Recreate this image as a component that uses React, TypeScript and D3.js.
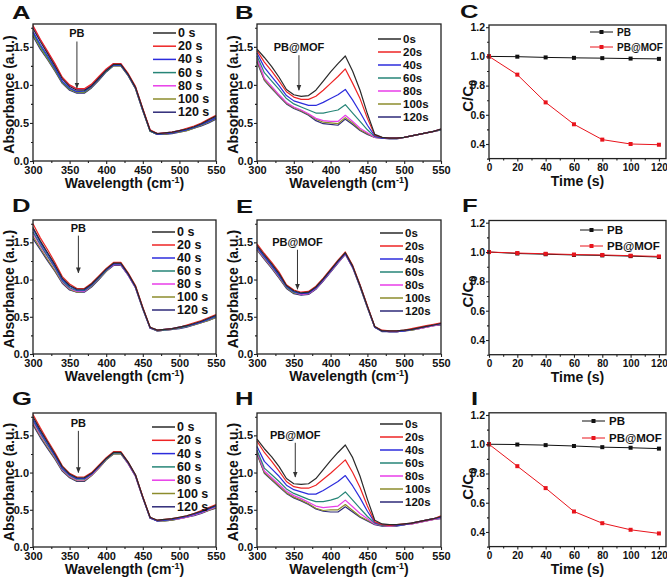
import { useEffect, useRef } from 'react';
import * as d3 from 'd3';

// wavelength grid shared by all spectra (nm, axis is labelled cm-1 in the source)
const wavelengths = [300, 310, 320, 330, 340, 350, 360, 370, 380, 390, 400, 410, 420, 430, 440, 450, 460, 470, 480, 490, 500, 510, 520, 530, 540, 550];

const labelsSpaced = ['0 s', '20 s', '40 s', '60 s', '80 s', '100 s', '120 s'];
const labelsTight = ['0s', '20s', '40s', '60s', '80s', '100s', '120s'];
const seriesColors = ['#2a2a2a', '#ee2424', '#2c2cdc', '#268577', '#e83ee8', '#8c8c2c', '#2e2a78'];

// Panel A (PB)
const a0 = [1.74, 1.57, 1.41, 1.25, 1.08, 0.98, 0.93, 0.93, 0.99, 1.09, 1.19, 1.27, 1.27, 1.14, 0.97, 0.68, 0.40, 0.36, 0.37, 0.38, 0.40, 0.42, 0.45, 0.49, 0.54, 0.59];
const a20 = [1.78, 1.60, 1.44, 1.28, 1.10, 1.00, 0.95, 0.95, 1.01, 1.11, 1.21, 1.28, 1.28, 1.15, 0.98, 0.69, 0.41, 0.36, 0.37, 0.38, 0.40, 0.43, 0.46, 0.50, 0.55, 0.60];
const a40 = [1.70, 1.53, 1.38, 1.22, 1.05, 0.96, 0.91, 0.92, 0.98, 1.08, 1.19, 1.26, 1.26, 1.13, 0.96, 0.67, 0.40, 0.35, 0.36, 0.37, 0.39, 0.41, 0.44, 0.48, 0.52, 0.57];
const a60 = [1.68, 1.51, 1.36, 1.21, 1.04, 0.95, 0.91, 0.91, 0.98, 1.08, 1.18, 1.26, 1.26, 1.13, 0.96, 0.67, 0.39, 0.35, 0.36, 0.37, 0.39, 0.41, 0.44, 0.48, 0.52, 0.57];
const a80 = [1.76, 1.59, 1.43, 1.27, 1.09, 0.99, 0.94, 0.94, 1.00, 1.10, 1.20, 1.28, 1.28, 1.14, 0.97, 0.68, 0.40, 0.36, 0.37, 0.38, 0.40, 0.42, 0.45, 0.49, 0.54, 0.59];
const a100 = [1.66, 1.49, 1.34, 1.19, 1.03, 0.94, 0.90, 0.90, 0.97, 1.07, 1.18, 1.25, 1.25, 1.12, 0.95, 0.66, 0.39, 0.35, 0.35, 0.37, 0.38, 0.40, 0.43, 0.47, 0.51, 0.56];
const a120 = [1.64, 1.47, 1.33, 1.18, 1.02, 0.93, 0.89, 0.89, 0.96, 1.06, 1.17, 1.25, 1.25, 1.12, 0.95, 0.66, 0.39, 0.35, 0.35, 0.36, 0.38, 0.40, 0.43, 0.46, 0.50, 0.55];

// Panel B (PB@MOF)
const b0 = [1.47, 1.36, 1.24, 1.10, 0.94, 0.87, 0.85, 0.86, 0.93, 1.05, 1.17, 1.28, 1.38, 1.18, 0.93, 0.62, 0.35, 0.31, 0.30, 0.30, 0.31, 0.33, 0.35, 0.37, 0.39, 0.42];
const b20 = [1.45, 1.30, 1.18, 1.05, 0.91, 0.84, 0.81, 0.81, 0.85, 0.93, 1.02, 1.11, 1.21, 1.02, 0.82, 0.56, 0.34, 0.31, 0.30, 0.30, 0.31, 0.33, 0.35, 0.37, 0.39, 0.42];
const b40 = [1.42, 1.23, 1.11, 0.99, 0.86, 0.79, 0.76, 0.73, 0.73, 0.77, 0.82, 0.87, 0.94, 0.80, 0.64, 0.47, 0.33, 0.30, 0.30, 0.30, 0.31, 0.33, 0.35, 0.37, 0.39, 0.42];
const b60 = [1.38, 1.16, 1.05, 0.94, 0.82, 0.75, 0.71, 0.67, 0.63, 0.63, 0.65, 0.67, 0.74, 0.63, 0.52, 0.41, 0.32, 0.30, 0.30, 0.30, 0.31, 0.33, 0.35, 0.37, 0.39, 0.41];
const b80 = [1.35, 1.09, 0.98, 0.87, 0.77, 0.71, 0.67, 0.62, 0.56, 0.53, 0.52, 0.52, 0.60, 0.52, 0.43, 0.37, 0.31, 0.30, 0.30, 0.30, 0.31, 0.33, 0.35, 0.37, 0.39, 0.41];
const b100 = [1.32, 1.07, 0.96, 0.86, 0.76, 0.70, 0.66, 0.61, 0.55, 0.51, 0.50, 0.49, 0.57, 0.50, 0.41, 0.36, 0.31, 0.30, 0.30, 0.30, 0.31, 0.33, 0.35, 0.37, 0.39, 0.41];
const b120 = [1.30, 1.06, 0.95, 0.85, 0.75, 0.69, 0.65, 0.60, 0.53, 0.49, 0.48, 0.47, 0.55, 0.48, 0.40, 0.35, 0.31, 0.30, 0.29, 0.29, 0.31, 0.33, 0.35, 0.37, 0.39, 0.41];

// Panel D (PB)
const d0 = [1.70, 1.52, 1.36, 1.20, 1.02, 0.92, 0.87, 0.87, 0.94, 1.04, 1.14, 1.22, 1.22, 1.08, 0.91, 0.62, 0.36, 0.32, 0.33, 0.34, 0.36, 0.38, 0.41, 0.44, 0.48, 0.52];
const d20 = [1.75, 1.56, 1.40, 1.23, 1.04, 0.94, 0.88, 0.88, 0.95, 1.05, 1.15, 1.23, 1.23, 1.09, 0.92, 0.63, 0.36, 0.32, 0.33, 0.34, 0.36, 0.39, 0.42, 0.45, 0.49, 0.53];
const d40 = [1.68, 1.50, 1.34, 1.18, 1.00, 0.91, 0.86, 0.86, 0.93, 1.03, 1.13, 1.21, 1.21, 1.07, 0.90, 0.62, 0.35, 0.32, 0.33, 0.34, 0.36, 0.38, 0.40, 0.43, 0.47, 0.51];
const d60 = [1.64, 1.47, 1.31, 1.16, 0.98, 0.89, 0.85, 0.85, 0.92, 1.02, 1.12, 1.21, 1.21, 1.07, 0.90, 0.61, 0.35, 0.31, 0.32, 0.33, 0.35, 0.37, 0.40, 0.43, 0.46, 0.50];
const d80 = [1.62, 1.45, 1.30, 1.15, 0.97, 0.88, 0.84, 0.84, 0.92, 1.02, 1.12, 1.20, 1.20, 1.06, 0.89, 0.61, 0.35, 0.31, 0.32, 0.33, 0.35, 0.37, 0.40, 0.43, 0.46, 0.50];
const d100 = [1.58, 1.42, 1.27, 1.12, 0.96, 0.87, 0.83, 0.84, 0.91, 1.01, 1.11, 1.20, 1.20, 1.06, 0.89, 0.61, 0.35, 0.31, 0.32, 0.33, 0.35, 0.37, 0.39, 0.42, 0.45, 0.49];
const d120 = [1.55, 1.40, 1.25, 1.11, 0.95, 0.86, 0.83, 0.83, 0.90, 1.00, 1.11, 1.19, 1.19, 1.06, 0.89, 0.60, 0.35, 0.31, 0.32, 0.33, 0.34, 0.36, 0.39, 0.42, 0.45, 0.49];

// Panel E (PB@MOF)
const e0 = [1.46, 1.33, 1.21, 1.08, 0.92, 0.85, 0.82, 0.83, 0.90, 1.01, 1.13, 1.25, 1.36, 1.18, 0.92, 0.64, 0.37, 0.31, 0.31, 0.31, 0.32, 0.33, 0.35, 0.37, 0.39, 0.41];
const e20 = [1.48, 1.35, 1.23, 1.10, 0.93, 0.86, 0.83, 0.84, 0.91, 1.02, 1.14, 1.26, 1.37, 1.19, 0.93, 0.65, 0.37, 0.32, 0.31, 0.31, 0.32, 0.34, 0.36, 0.38, 0.40, 0.42];
const e40 = [1.44, 1.31, 1.19, 1.06, 0.91, 0.84, 0.81, 0.82, 0.89, 1.00, 1.12, 1.24, 1.35, 1.17, 0.92, 0.64, 0.36, 0.31, 0.30, 0.30, 0.31, 0.33, 0.35, 0.37, 0.39, 0.41];
const e60 = [1.43, 1.30, 1.18, 1.05, 0.90, 0.83, 0.81, 0.82, 0.89, 1.00, 1.12, 1.24, 1.35, 1.17, 0.91, 0.63, 0.36, 0.31, 0.30, 0.30, 0.31, 0.33, 0.35, 0.37, 0.39, 0.41];
const e80 = [1.42, 1.29, 1.17, 1.04, 0.90, 0.83, 0.80, 0.81, 0.88, 0.99, 1.11, 1.23, 1.34, 1.16, 0.91, 0.63, 0.36, 0.31, 0.30, 0.30, 0.31, 0.33, 0.34, 0.36, 0.38, 0.40];
const e100 = [1.41, 1.28, 1.16, 1.03, 0.89, 0.82, 0.80, 0.81, 0.88, 0.99, 1.11, 1.23, 1.34, 1.16, 0.91, 0.63, 0.36, 0.31, 0.30, 0.30, 0.31, 0.32, 0.34, 0.36, 0.38, 0.40];
const e120 = [1.40, 1.27, 1.15, 1.02, 0.88, 0.81, 0.79, 0.80, 0.87, 0.98, 1.10, 1.22, 1.34, 1.16, 0.90, 0.62, 0.36, 0.30, 0.30, 0.30, 0.31, 0.32, 0.34, 0.36, 0.38, 0.39];

// Panel G (PB)
const g0 = [1.75, 1.57, 1.41, 1.25, 1.08, 0.98, 0.93, 0.93, 0.99, 1.09, 1.19, 1.27, 1.27, 1.14, 0.97, 0.67, 0.40, 0.36, 0.37, 0.38, 0.40, 0.42, 0.45, 0.48, 0.52, 0.56];
const g20 = [1.78, 1.60, 1.43, 1.27, 1.09, 0.99, 0.94, 0.94, 1.00, 1.10, 1.20, 1.28, 1.28, 1.14, 0.97, 0.68, 0.40, 0.36, 0.37, 0.38, 0.40, 0.42, 0.45, 0.49, 0.53, 0.57];
const g40 = [1.72, 1.55, 1.39, 1.23, 1.06, 0.97, 0.92, 0.92, 0.98, 1.08, 1.19, 1.27, 1.27, 1.13, 0.96, 0.67, 0.39, 0.35, 0.36, 0.37, 0.39, 0.41, 0.44, 0.47, 0.51, 0.55];
const g60 = [1.70, 1.53, 1.37, 1.22, 1.05, 0.96, 0.91, 0.91, 0.98, 1.08, 1.18, 1.26, 1.26, 1.13, 0.96, 0.67, 0.39, 0.35, 0.36, 0.37, 0.39, 0.41, 0.44, 0.47, 0.51, 0.55];
const g80 = [1.68, 1.51, 1.36, 1.21, 1.04, 0.95, 0.90, 0.90, 0.97, 1.07, 1.18, 1.26, 1.26, 1.12, 0.95, 0.66, 0.39, 0.35, 0.36, 0.37, 0.38, 0.40, 0.43, 0.46, 0.50, 0.54];
const g100 = [1.66, 1.49, 1.34, 1.19, 1.03, 0.94, 0.89, 0.89, 0.96, 1.06, 1.17, 1.25, 1.25, 1.12, 0.95, 0.66, 0.39, 0.35, 0.35, 0.36, 0.38, 0.40, 0.43, 0.46, 0.49, 0.53];
const g120 = [1.64, 1.47, 1.32, 1.18, 1.02, 0.93, 0.88, 0.88, 0.96, 1.06, 1.17, 1.25, 1.25, 1.12, 0.95, 0.66, 0.39, 0.35, 0.35, 0.36, 0.38, 0.40, 0.42, 0.45, 0.49, 0.52];

// Panel H (PB@MOF)
const h0 = [1.45, 1.32, 1.21, 1.08, 0.92, 0.85, 0.84, 0.85, 0.92, 1.04, 1.16, 1.27, 1.37, 1.20, 0.95, 0.64, 0.36, 0.31, 0.30, 0.30, 0.31, 0.32, 0.34, 0.36, 0.38, 0.41];
const h20 = [1.42, 1.27, 1.15, 1.02, 0.88, 0.81, 0.79, 0.79, 0.83, 0.91, 0.99, 1.08, 1.17, 1.00, 0.80, 0.55, 0.34, 0.30, 0.29, 0.30, 0.31, 0.32, 0.34, 0.36, 0.38, 0.42];
const h40 = [1.35, 1.15, 1.05, 0.95, 0.83, 0.77, 0.74, 0.71, 0.71, 0.76, 0.82, 0.88, 0.96, 0.82, 0.66, 0.48, 0.33, 0.30, 0.29, 0.29, 0.30, 0.32, 0.34, 0.36, 0.38, 0.40];
const h60 = [1.30, 1.06, 0.97, 0.88, 0.78, 0.72, 0.68, 0.64, 0.61, 0.61, 0.63, 0.66, 0.74, 0.63, 0.52, 0.41, 0.32, 0.29, 0.29, 0.29, 0.30, 0.32, 0.34, 0.36, 0.38, 0.40];
const h80 = [1.28, 1.02, 0.93, 0.84, 0.75, 0.69, 0.65, 0.60, 0.55, 0.53, 0.54, 0.55, 0.63, 0.54, 0.45, 0.38, 0.31, 0.29, 0.28, 0.29, 0.30, 0.31, 0.33, 0.35, 0.37, 0.39];
const h100 = [1.26, 1.00, 0.91, 0.82, 0.73, 0.67, 0.63, 0.58, 0.52, 0.49, 0.50, 0.50, 0.57, 0.49, 0.41, 0.36, 0.31, 0.29, 0.28, 0.29, 0.30, 0.31, 0.33, 0.35, 0.37, 0.39];
const h120 = [1.25, 0.99, 0.90, 0.81, 0.72, 0.66, 0.62, 0.57, 0.51, 0.48, 0.47, 0.47, 0.54, 0.47, 0.40, 0.35, 0.30, 0.28, 0.28, 0.28, 0.30, 0.31, 0.33, 0.35, 0.37, 0.38];

// Kinetics panels C, F, I
const times = [0, 20, 40, 60, 80, 100, 120];
const pbC = [1.0, 0.998, 0.993, 0.99, 0.988, 0.985, 0.983];
const mofC = [1.0, 0.875, 0.685, 0.535, 0.43, 0.40, 0.395];
const pbF = [1.0, 0.99, 0.985, 0.98, 0.977, 0.972, 0.966];
const mofF = [1.0, 0.993, 0.988, 0.983, 0.98, 0.975, 0.97];
const pbI = [1.0, 0.998, 0.994, 0.988, 0.98, 0.976, 0.97];
const mofI = [1.0, 0.85, 0.70, 0.54, 0.46, 0.415, 0.39];

const wlTicks = [300, 350, 400, 450, 500, 550];
const wlMinor = [325, 375, 425, 475, 525];
const absTicks = [0, 0.5, 1.0, 1.5];
const absMinor = [0.25, 0.75, 1.25, 1.75];
const timeTicks = [0, 20, 40, 60, 80, 100, 120];
const timeMinor = [10, 30, 50, 70, 90, 110];
const ratioTicks = [0.4, 0.6, 0.8, 1.0, 1.2];
const ratioMinor = [0.3, 0.5, 0.7, 0.9, 1.1];

const FONT = '"Liberation Sans", Arial, Helvetica, sans-serif';

type Spec = {
  letter: string; lx: number; ly: number;
  left: number; right: number; top: number; bottom: number;
  series: number[][]; labels: string[];
  legX: number; legY: number; legStep: number; legFont: number;
  tag: string; tagW: number; tagY: number; arrowFrom: number; arrowTo: number;
};

const specPanels: Spec[] = [
  { letter: 'A', lx: 12, ly: 19, left: 33, right: 216, top: 24, bottom: 161, series: [a0, a20, a40, a60, a80, a100, a120], labels: labelsSpaced, legX: 153, legY: 33, legStep: 13.2, legFont: 12.5, tag: 'PB', tagW: 360, tagY: 1.63, arrowFrom: 1.57, arrowTo: 0.96 },
  { letter: 'B', lx: 235, ly: 19, left: 257, right: 441, top: 24, bottom: 161, series: [b0, b20, b40, b60, b80, b100, b120], labels: labelsTight, legX: 378, legY: 39, legStep: 13, legFont: 11.5, tag: 'PB@MOF', tagW: 357, tagY: 1.45, arrowFrom: 1.39, arrowTo: 0.93 },
  { letter: 'D', lx: 12, ly: 212, left: 33, right: 216, top: 220, bottom: 354, series: [d0, d20, d40, d60, d80, d100, d120], labels: labelsSpaced, legX: 152, legY: 232, legStep: 13, legFont: 12.5, tag: 'PB', tagW: 362, tagY: 1.64, arrowFrom: 1.59, arrowTo: 1.09 },
  { letter: 'E', lx: 236, ly: 213, left: 257, right: 441, top: 220, bottom: 354, series: [e0, e20, e40, e60, e80, e100, e120], labels: labelsTight, legX: 380, legY: 233, legStep: 13, legFont: 11.5, tag: 'PB@MOF', tagW: 355, tagY: 1.45, arrowFrom: 1.40, arrowTo: 0.87 },
  { letter: 'G', lx: 12, ly: 405, left: 33, right: 216, top: 413, bottom: 547, series: [g0, g20, g40, g60, g80, g100, g120], labels: labelsSpaced, legX: 152, legY: 427, legStep: 13.3, legFont: 12.5, tag: 'PB', tagW: 362, tagY: 1.61, arrowFrom: 1.56, arrowTo: 1.0 },
  { letter: 'H', lx: 235, ly: 405, left: 257, right: 441, top: 413, bottom: 547, series: [h0, h20, h40, h60, h80, h100, h120], labels: labelsTight, legX: 380, legY: 424, legStep: 13, legFont: 11.5, tag: 'PB@MOF', tagW: 352, tagY: 1.45, arrowFrom: 1.40, arrowTo: 0.94 },
];

type Kin = {
  letter: string; lx: number; ly: number;
  left: number; right: number; top: number; bottom: number;
  pb: number[]; mof: number[]; legX: number; legY: number; legStep: number; legFont: number;
};

const kinPanels: Kin[] = [
  { letter: 'C', lx: 460, ly: 18, left: 489, right: 666, top: 25, bottom: 158.6, pb: pbC, mof: mofC, legX: 590, legY: 32, legStep: 15, legFont: 10 },
  { letter: 'F', lx: 462, ly: 212, left: 489, right: 666, top: 220.5, bottom: 354.7, pb: pbF, mof: mofF, legX: 580, legY: 230, legStep: 16, legFont: 11.5 },
  { letter: 'I', lx: 471, ly: 405, left: 489, right: 666, top: 412.8, bottom: 546.6, pb: pbI, mof: mofI, legX: 582, legY: 421, legStep: 17, legFont: 11.5 },
];

function styleAxis(size: number) {
  return (g: d3.Selection<SVGGElement, unknown, null, undefined>) => {
    g.select('.domain').remove();
    g.selectAll('line').attr('stroke', '#222').attr('stroke-width', 1.1);
    g.selectAll('text')
      .attr('fill', '#111')
      .style('font-family', FONT)
      .style('font-size', `${size}px`)
      .style('font-weight', 'bold');
  };
}

function letter(svg: d3.Selection<SVGSVGElement, unknown, null, undefined>, t: string, x: number, y: number) {
  svg.append('text')
    .attr('transform', `translate(${x},${y}) scale(1.35,1)`)
    .style('font-family', FONT)
    .style('font-size', '19px')
    .style('font-weight', 'bold')
    .attr('fill', '#111')
    .text(t);
}

export default function App() {
  const svgRef = useRef<SVGSVGElement>(null);

  useEffect(() => {
    if (!svgRef.current) return;
    const svg = d3.select(svgRef.current);
    svg.selectAll('*').remove();

    const defs = svg.append('defs');
    defs.append('marker')
      .attr('id', 'arrow')
      .attr('viewBox', '0 0 10 10')
      .attr('refX', 9).attr('refY', 5)
      .attr('markerWidth', 6).attr('markerHeight', 6)
      .attr('orient', 'auto')
      .append('path')
      .attr('d', 'M0,1 L10,5 L0,9 Z')
      .attr('fill', '#333');

    // spectra panels
    specPanels.forEach(p => {
      const x = d3.scaleLinear().domain([300, 550]).range([p.left, p.right]);
      const y = d3.scaleLinear().domain([0, 1.8]).range([p.bottom, p.top]);
      const g = svg.append('g');

      const line = d3.line<number>()
        .x((_, i) => x(wavelengths[i]))
        .y(d => y(d));

      // later series first so the 0 s curve stays on top
      p.series.slice().reverse().forEach((s, ri) => {
        const i = p.series.length - 1 - ri;
        g.append('path')
          .attr('d', line(s))
          .attr('fill', 'none')
          .attr('stroke', seriesColors[i])
          .attr('stroke-width', 1.2)
          .attr('stroke-linejoin', 'round');
      });

      g.append('rect')
        .attr('x', p.left).attr('y', p.top)
        .attr('width', p.right - p.left).attr('height', p.bottom - p.top)
        .attr('fill', 'none').attr('stroke', '#222').attr('stroke-width', 1.3);

      g.append('g').attr('transform', `translate(0,${p.bottom})`)
        .call(d3.axisBottom(x).tickValues(wlTicks).tickSize(3).tickPadding(2.5).tickFormat(d3.format('d')))
        .call(styleAxis(11));
      g.append('g').attr('transform', `translate(0,${p.bottom})`)
        .call(d3.axisBottom(x).tickValues(wlMinor).tickSize(2).tickFormat(() => ''))
        .call(styleAxis(11));
      g.append('g').attr('transform', `translate(${p.left},0)`)
        .call(d3.axisLeft(y).tickValues(absTicks).tickSize(3).tickPadding(1).tickFormat(d3.format('.1f')))
        .call(styleAxis(11));
      g.append('g').attr('transform', `translate(${p.left},0)`)
        .call(d3.axisLeft(y).tickValues(absMinor).tickSize(2).tickFormat(() => ''))
        .call(styleAxis(11));

      // axis titles
      const xt = g.append('text')
        .attr('x', (p.left + p.right) / 2).attr('y', p.bottom + 27)
        .attr('text-anchor', 'middle')
        .style('font-family', FONT).style('font-size', '14px').style('font-weight', 'bold')
        .attr('fill', '#111');
      xt.append('tspan').text('Wavelength (cm');
      xt.append('tspan').attr('dy', -5).style('font-size', '9px').text('-1');
      xt.append('tspan').attr('dy', 5).text(')');

      g.append('text')
        .attr('transform', `translate(${p.left - 19},${(p.top + p.bottom) / 2 + 2}) rotate(-90)`)
        .attr('text-anchor', 'middle')
        .style('font-family', FONT).style('font-size', '14px').style('font-weight', 'bold')
        .attr('fill', '#111')
        .text('Absorbance (a.u.)');

      // legend
      p.labels.forEach((lab, i) => {
        const ly = p.legY + i * p.legStep;
        g.append('line')
          .attr('x1', p.legX).attr('x2', p.legX + 23)
          .attr('y1', ly).attr('y2', ly)
          .attr('stroke', seriesColors[i]).attr('stroke-width', 1.5);
        g.append('text')
          .attr('x', p.legX + 25).attr('y', ly + 4)
          .style('font-family', FONT).style('font-size', `${p.legFont}px`).style('font-weight', 'bold')
          .attr('fill', '#111')
          .text(lab);
      });

      // annotation with arrow
      g.append('text')
        .attr('x', x(p.tagW)).attr('y', y(p.tagY))
        .attr('text-anchor', 'middle')
        .style('font-family', FONT).style('font-size', '11px').style('font-weight', 'bold')
        .attr('fill', '#111')
        .text(p.tag);
      g.append('line')
        .attr('x1', x(p.tagW)).attr('x2', x(p.tagW))
        .attr('y1', y(p.arrowFrom)).attr('y2', y(p.arrowTo))
        .attr('stroke', '#333').attr('stroke-width', 1)
        .attr('marker-end', 'url(#arrow)');

      letter(svg, p.letter, p.lx, p.ly);
    });

    // kinetics panels
    kinPanels.forEach(p => {
      const x = d3.scaleLinear().domain([0, 125]).range([p.left, p.right]);
      const y = d3.scaleLinear().domain([0.3, 1.215]).range([p.bottom, p.top]);
      const g = svg.append('g');

      const line = d3.line<number>()
        .x((_, i) => x(times[i]))
        .y(d => y(d));

      const drawSeries = (vals: number[], color: string) => {
        g.append('path')
          .attr('d', line(vals))
          .attr('fill', 'none').attr('stroke', color).attr('stroke-width', 1);
        g.selectAll(null)
          .data(vals)
          .enter().append('rect')
          .attr('x', (_, i) => x(times[i]) - 2)
          .attr('y', d => y(d) - 2)
          .attr('width', 4).attr('height', 4)
          .attr('fill', color);
      };
      drawSeries(p.pb, '#111');
      drawSeries(p.mof, '#e8141c');

      g.append('rect')
        .attr('x', p.left).attr('y', p.top)
        .attr('width', p.right - p.left).attr('height', p.bottom - p.top)
        .attr('fill', 'none').attr('stroke', '#222').attr('stroke-width', 1.3);

      g.append('g').attr('transform', `translate(0,${p.bottom})`)
        .call(d3.axisBottom(x).tickValues(timeTicks).tickSize(3).tickPadding(2).tickFormat(d3.format('d')))
        .call(styleAxis(10));
      g.append('g').attr('transform', `translate(0,${p.bottom})`)
        .call(d3.axisBottom(x).tickValues(timeMinor).tickSize(2).tickFormat(() => ''))
        .call(styleAxis(10));
      g.append('g').attr('transform', `translate(${p.left},0)`)
        .call(d3.axisLeft(y).tickValues(ratioTicks).tickSize(3).tickPadding(1).tickFormat(d3.format('.1f')))
        .call(styleAxis(10.5));
      g.append('g').attr('transform', `translate(${p.left},0)`)
        .call(d3.axisLeft(y).tickValues(ratioMinor).tickSize(2).tickFormat(() => ''))
        .call(styleAxis(10.5));

      g.append('text')
        .attr('x', (p.left + p.right) / 2).attr('y', p.bottom + 27)
        .attr('text-anchor', 'middle')
        .style('font-family', FONT).style('font-size', '14px').style('font-weight', 'bold')
        .attr('fill', '#111')
        .text('Time (s)');

      const yt = g.append('text')
        .attr('transform', `translate(${p.left - 16},${(p.top + p.bottom) / 2 + 4}) rotate(-90)`)
        .attr('text-anchor', 'middle')
        .style('font-family', FONT).style('font-size', '15px').style('font-weight', 'bold')
        .attr('fill', '#111');
      yt.append('tspan').text('C/C');
      yt.append('tspan').attr('dy', 4).style('font-size', '11px').text('0');

      const legend = [
        { label: 'PB', color: '#111' },
        { label: 'PB@MOF', color: '#e8141c' },
      ];
      legend.forEach((l, i) => {
        const ly = p.legY + i * p.legStep;
        g.append('line')
          .attr('x1', p.legX).attr('x2', p.legX + 23)
          .attr('y1', ly).attr('y2', ly)
          .attr('stroke', l.color).attr('stroke-width', 1);
        g.append('rect')
          .attr('x', p.legX + 11.5 - 2).attr('y', ly - 2)
          .attr('width', 4).attr('height', 4)
          .attr('fill', l.color);
        g.append('text')
          .attr('x', p.legX + 27).attr('y', ly + 4)
          .style('font-family', FONT).style('font-size', `${p.legFont}px`).style('font-weight', 'bold')
          .attr('fill', '#111')
          .text(l.label);
      });

      letter(svg, p.letter, p.lx, p.ly);
    });
  }, []);

  return (
    <div style={{ position: 'absolute', left: 0, top: 0, width: 667, height: 578, background: '#fff' }}>
      <svg ref={svgRef} width={667} height={578} style={{ display: 'block' }} />
    </div>
  );
}
